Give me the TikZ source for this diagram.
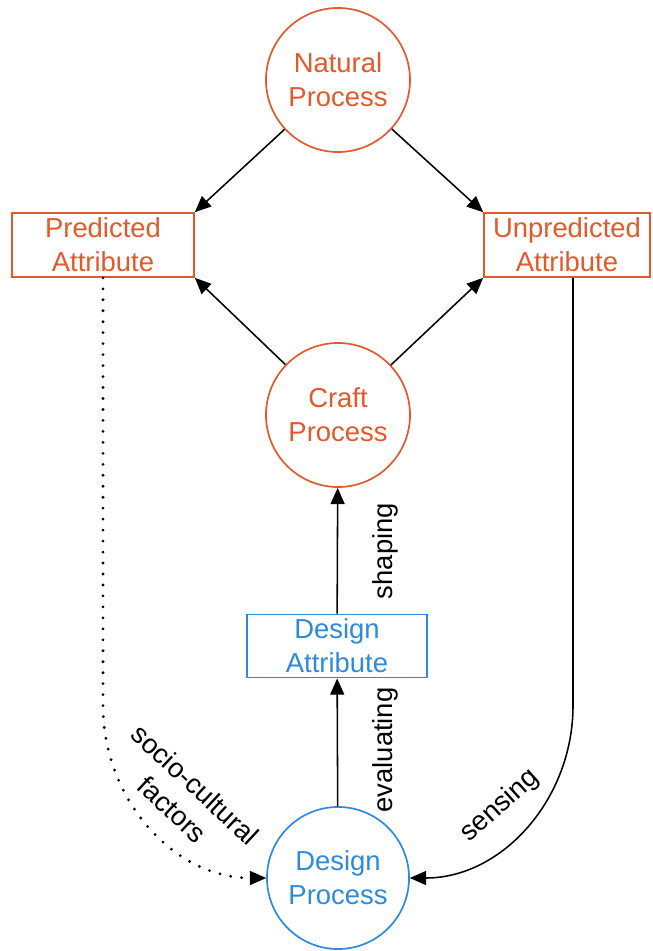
\documentclass[tikz,border=0pt]{standalone}
\usepackage{fontspec}
\setmainfont{Liberation Sans}
\usetikzlibrary{arrows.meta}
\definecolor{craftorange}{RGB}{228,88,44}
\definecolor{designblue}{RGB}{46,138,220}

\tikzset{
    proc/.style={circle,draw,line width=1.2pt,minimum size=3.6cm,inner sep=0pt,align=center,
        font=\fontsize{19.5}{24}\selectfont},
    attr/.style={rectangle,draw,line width=1.2pt,inner sep=0pt,align=center,
        font=\fontsize{19.5}{24}\selectfont},
    arr/.style={-{Triangle[length=11.5pt,width=10pt,line width=0.8pt]},line width=1.1pt},
    dots/.style={arr,line width=2.2pt,line cap=round,dash pattern=on 0pt off 7.8pt},
    lbl/.style={inner sep=0pt,align=center,font=\fontsize{19.5}{24}\selectfont}
}

\begin{document}
\begin{tikzpicture}[x=0.025cm,y=-0.025cm]
    \useasboundingbox (0,0) rectangle (652,951);

    \node[proc,craftorange] (natural) at (338,80) {Natural\\Process};
    \node[attr,craftorange,minimum width=4.55cm,minimum height=1.6cm] (pred) at (103,245) {Predicted\\Attribute};
    \node[attr,craftorange,minimum width=4.15cm,minimum height=1.6cm] (unpred) at (567,245) {Unpredicted\\Attribute};
    \node[proc,craftorange] (craft) at (338,415) {Craft\\Process};
    \node[attr,designblue,minimum width=4.5cm,minimum height=1.58cm] (dattr) at (337,646) {Design\\Attribute};
    \node[proc,designblue,minimum size=3.55cm] (dproc) at (338,878) {Design\\Process};

    \draw[arr] (natural) -- (pred.north east);
    \draw[arr] (natural) -- (unpred.north west);
    \draw[arr] (craft) -- (pred.south east);
    \draw[arr] (craft) -- (unpred.south west);

    \draw[arr] (dattr) -- (craft);
        \node[lbl,rotate=90] (shapinglbl) at (385,551) {shaping};
    \draw[arr] (dproc) -- (dattr);
        \node[lbl,rotate=90] (evallbl) at (385,750) {evaluating};

    \draw[arr] ([xshift=0.15cm]unpred.south) -- ++(0,428) to[out=-90,in=0] (dproc.east);
        \node[lbl,rotate=42] (senselbl) at (500,806) {sensing};
    \draw[dots] (pred.south) -- ++(0,428) to[out=-90,in=180] (dproc.west);
        \node[lbl,rotate=-43] (sociolbl) at (184,797) {socio-cultural\\factors};
\end{tikzpicture}
\end{document}
